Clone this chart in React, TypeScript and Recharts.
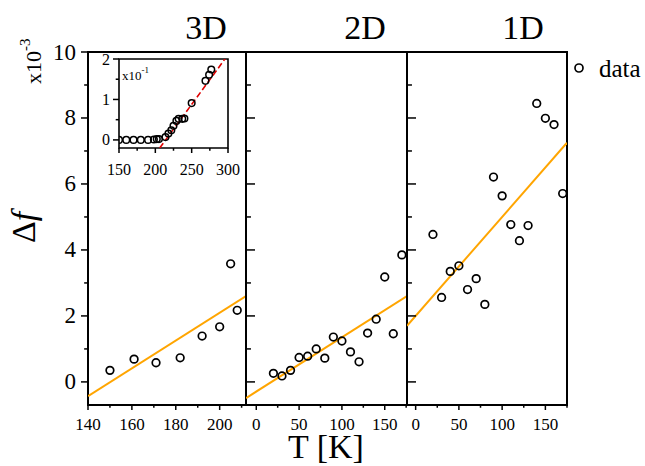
import React from "react";
import { ComposedChart, Scatter, Line, XAxis, YAxis, ReferenceArea } from "recharts";

const FONT = "'Liberation Serif', 'Times New Roman', serif";
const W = 645;
const H = 466;

// 3D panel
const t3D = [150, 161, 171, 182, 192, 200, 205, 208];
const df3D = [0.35, 0.69, 0.58, 0.73, 1.39, 1.67, 3.58, 2.17];
const fitT3D = [140, 212];
const fitDf3D = [-0.43, 2.6];

// 2D panel
const t2D = [20, 30, 40, 50, 60, 70, 80, 90, 100, 110, 120, 130, 140, 150, 160, 170];
const df2D = [0.26, 0.18, 0.35, 0.74, 0.78, 1.0, 0.72, 1.36, 1.24, 0.91, 0.61, 1.48, 1.9, 3.18, 1.46, 3.85];
const fitT2D = [-12, 176];
const fitDf2D = [-0.49, 2.6];

// 1D panel
const t1D = [20, 30, 40, 50, 60, 70, 80, 90, 100, 110, 120, 130, 140, 150, 160, 170];
const df1D = [4.47, 2.56, 3.35, 3.52, 2.8, 3.13, 2.35, 6.21, 5.64, 4.77, 4.28, 4.74, 8.44, 7.99, 7.8, 5.71];
const fitT1D = [-10, 175];
const fitDf1D = [1.7, 7.25];

// inset (x10^-1)
const tIn = [150, 160, 170, 180, 190, 198, 202, 205, 214, 218, 222, 225, 229, 232, 237, 240, 250, 269, 274, 277];
const dfIn = [0, 0, 0, 0, 0, 0.01, 0.02, 0.02, 0.07, 0.16, 0.24, 0.35, 0.47, 0.52, 0.52, 0.53, 0.91, 1.46, 1.61, 1.74];
const fitTIn = [206, 297];
const fitDfIn = [-0.2, 2.03];

// ticks
const yTicks = [0, 1, 2, 3, 4, 5, 6, 7, 8, 9, 10];
const xTicks3D = [140, 150, 160, 170, 180, 190, 200, 210];
const xTicksLow = [0, 25, 50, 75, 100, 125, 150, 175];
const xTicksIn = [150, 175, 200, 225, 250, 275, 300];
const yTicksIn = [0, 0.5, 1, 1.5, 2];

const zip = (xs: number[], ys: number[]) => xs.map((x, i) => ({ x, y: ys[i] }));

const Ring = (r: number, sw: number) => (p: any) =>
  <circle cx={p.cx} cy={p.cy} r={r} fill="none" stroke="#000" strokeWidth={sw} />;

const makeYTick = (o: { inward: boolean; labels: boolean; step: number; len: number; fs: number; gap: number }) =>
  (p: any) => {
    const v = p.payload.value;
    const major = Math.abs(v / o.step - Math.round(v / o.step)) < 1e-6;
    const l = major ? o.len : o.len * 0.55;
    return (
      <g>
        <line x1={p.x} y1={p.y} x2={o.inward ? p.x + l : p.x - l} y2={p.y} stroke="#000" strokeWidth={1.5} />
        {o.labels && major && (
          <text x={p.x - o.gap} y={p.y} textAnchor="end" dominantBaseline="central" fontSize={o.fs} fontFamily={FONT} fill="#000">
            {v}
          </text>
        )}
      </g>
    );
  };

const makeXTick = (o: { step: number; len: number; fs: number; dy: number }) =>
  (p: any) => {
    const v = p.payload.value;
    const major = v % o.step === 0;
    const l = major ? o.len : o.len * 0.55;
    return (
      <g>
        <line x1={p.x} y1={p.y} x2={p.x} y2={p.y + l} stroke="#000" strokeWidth={1.5} />
        {major && (
          <text x={p.x} y={p.y + o.dy} textAnchor="middle" fontSize={o.fs} fontFamily={FONT} fill="#000">
            {v}
          </text>
        )}
      </g>
    );
  };

type PanelProps = {
  x0: number; x1: number; domain: [number, number]; xTicks: number[]; xStep: number;
  pts: { x: number; y: number }[]; fit: { x: number; y: number }[]; first: boolean;
};

function Panel({ x0, x1, domain, xTicks, xStep, pts, fit, first }: PanelProps) {
  const top = 52, bottom = 405;
  return (
    <div style={{ position: "absolute", left: 0, top: 0 }}>
      <ComposedChart width={W} height={H} margin={{ top, bottom: H - bottom - 30, left: x0 - 40, right: W - x1 }}>
        <XAxis type="number" dataKey="x" domain={domain} allowDataOverflow ticks={xTicks} interval={0}
          height={30} axisLine={false} tickLine={false} tickSize={0} tickMargin={0}
          tick={makeXTick({ step: xStep, len: 5, fs: 17, dy: 25 })} />
        <YAxis type="number" dataKey="y" domain={[-0.7, 10]} allowDataOverflow ticks={yTicks} interval={0}
          width={40} axisLine={false} tickLine={false} tickSize={0} tickMargin={0}
          tick={makeYTick({ inward: !first, labels: first, step: 2, len: first ? 7 : 9, fs: 23, gap: 12 })} />
        <Line data={fit} dataKey="y" stroke="#FFA500" strokeWidth={2} dot={false} isAnimationActive={false} />
        <Scatter data={pts} dataKey="y" shape={Ring(3.8, 1.7)} isAnimationActive={false} />
        <ReferenceArea x1={domain[0]} x2={domain[1]} y1={-0.7} y2={10} fill="none" stroke="#000" strokeWidth={2} ifOverflow="visible" />
      </ComposedChart>
    </div>
  );
}

function Inset() {
  const l = 119, r = 228, top = 59, bottom = 148;
  return (
    <>
      <div style={{ position: "absolute", left: l, top, width: r - l, height: bottom - top, background: "#fff" }} />
      <div style={{ position: "absolute", left: 0, top: 0 }}>
        <ComposedChart width={W} height={H} margin={{ top, bottom: H - bottom - 20, left: l - 30, right: W - r }}>
          <XAxis type="number" dataKey="x" domain={[150, 300]} allowDataOverflow ticks={xTicksIn} interval={0}
            height={20} axisLine={false} tickLine={false} tickSize={0} tickMargin={0}
            tick={makeXTick({ step: 50, len: 5, fs: 16, dy: 27 })} />
          <YAxis type="number" dataKey="y" domain={[-0.2, 2]} allowDataOverflow ticks={yTicksIn} interval={0}
            width={30} axisLine={false} tickLine={false} tickSize={0} tickMargin={0}
            tick={makeYTick({ inward: false, labels: true, step: 1, len: 6, fs: 16, gap: 9 })} />
          <Line data={zip(fitTIn, fitDfIn)} dataKey="y" stroke="#E00000" strokeWidth={1.6} strokeDasharray="6 3" dot={false} isAnimationActive={false} />
          <Scatter data={zip(tIn, dfIn)} dataKey="y" shape={Ring(3.3, 1.5)} isAnimationActive={false} />
          <ReferenceArea x1={150} x2={300} y1={-0.2} y2={2} fill="none" stroke="#000" strokeWidth={1.6} ifOverflow="visible" />
        </ComposedChart>
      </div>
    </>
  );
}

function Labels() {
  return (
    <svg width={W} height={H} style={{ position: "absolute", left: 0, top: 0, pointerEvents: "none" }} fontFamily={FONT}>
      <text x={206} y={39} textAnchor="middle" fontSize={34}>3D</text>
      <text x={365} y={39} textAnchor="middle" fontSize={34}>2D</text>
      <text x={523} y={39} textAnchor="middle" fontSize={34}>1D</text>
      <text x={326} y={458} textAnchor="middle" fontSize={34}>T [K]</text>
      <text transform="translate(35,243) rotate(-90)" fontSize={34}>
        Δ<tspan fontStyle="italic">f</tspan>
      </text>
      <text transform="translate(41,84) rotate(-90)" fontSize={22}>
        x10<tspan fontSize={15} dy={-11}>-3</tspan>
      </text>
      <text x={122} y={80} fontSize={13}>
        x10<tspan fontSize={9} dy={-7}>-1</tspan>
      </text>
      <circle cx={579} cy={68} r={4} fill="none" stroke="#000" strokeWidth={1.7} />
      <text x={599} y={77} fontSize={25}>data</text>
    </svg>
  );
}

export default function App() {
  return (
    <div style={{ position: "absolute", left: 0, top: 0, width: W, height: H, background: "#fff" }}>
      <Panel x0={88} x1={246} domain={[140, 212]} xTicks={xTicks3D} xStep={20} pts={zip(t3D, df3D)} fit={zip(fitT3D, fitDf3D)} first />
      <Panel x0={246} x1={407} domain={[-12, 176]} xTicks={xTicksLow} xStep={50} pts={zip(t2D, df2D)} fit={zip(fitT2D, fitDf2D)} first={false} />
      <Panel x0={407} x1={567} domain={[-10, 175]} xTicks={xTicksLow} xStep={50} pts={zip(t1D, df1D)} fit={zip(fitT1D, fitDf1D)} first={false} />
      <Inset />
      <Labels />
    </div>
  );
}
